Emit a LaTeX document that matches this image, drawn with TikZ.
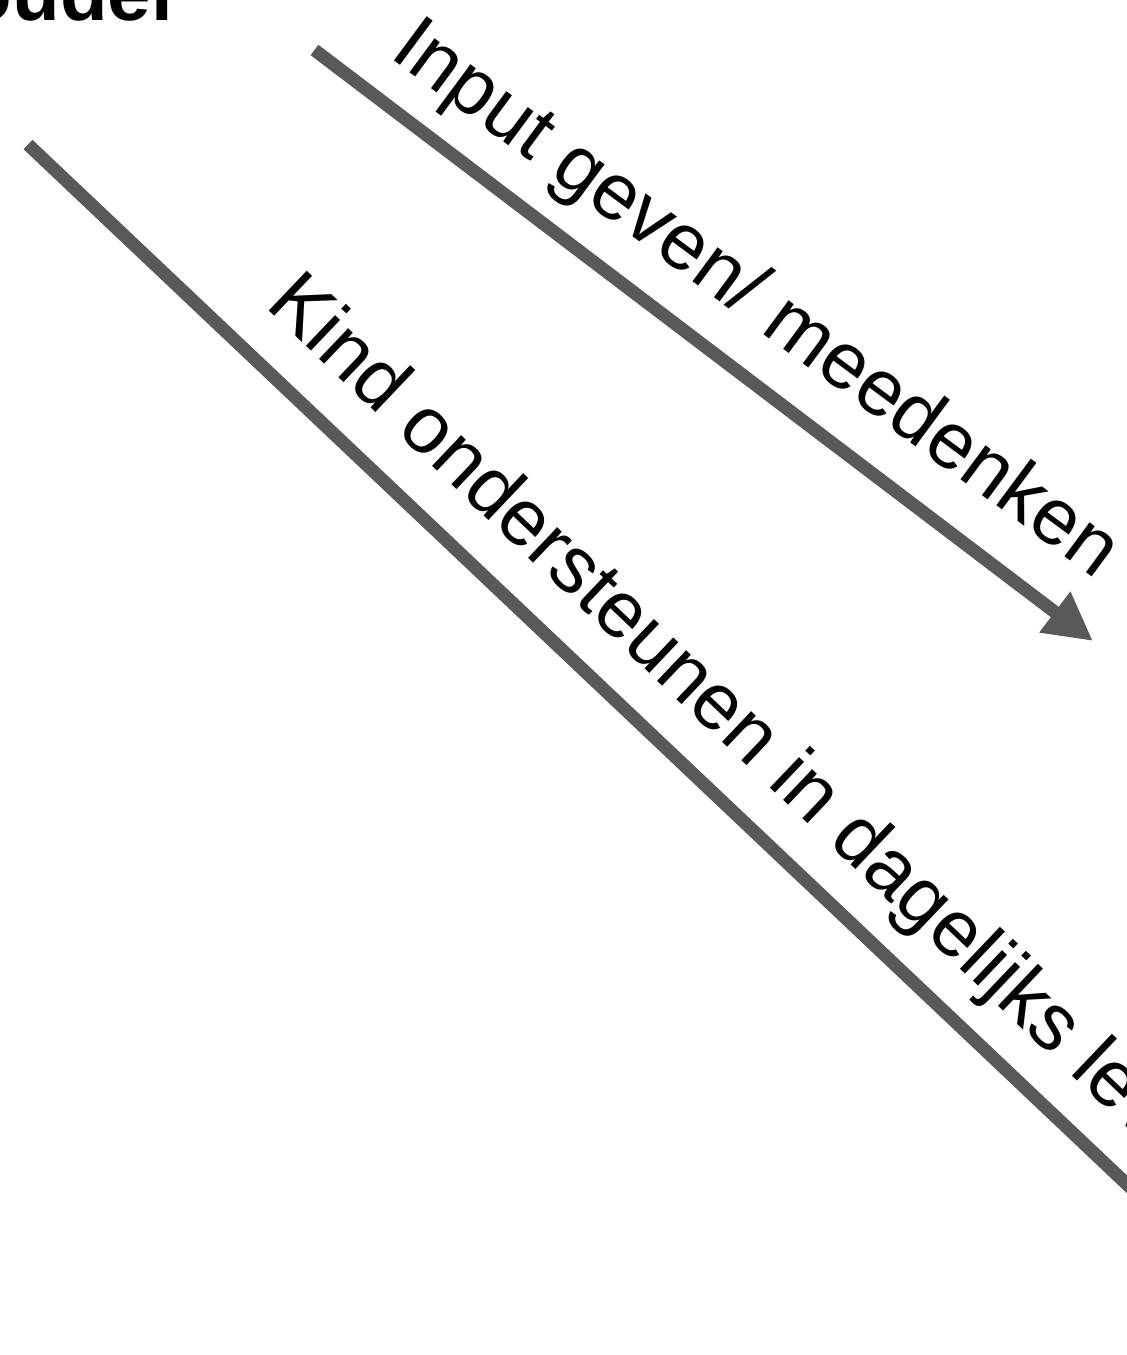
\documentclass[tikz,border=0pt]{standalone}
\usepackage{fontspec}
\setmainfont{Liberation Sans}
\usetikzlibrary{arrows.meta}
\definecolor{linegray}{RGB}{89,89,89}
\tikzset{
  flowline/.style={draw=linegray, line width=13pt},
  flowlabel/.style={anchor=base west, inner sep=0pt, outer sep=0pt, font=\fontsize{80pt}{96pt}\selectfont},
  titlelabel/.style={anchor=base west, inner sep=0pt, outer sep=0pt, font=\fontsize{78pt}{94pt}\selectfont\bfseries}
}
\begin{document}
\begin{tikzpicture}[x=1pt,y=-1pt]
\useasboundingbox (0,0) rectangle (1127,1355);
\clip (0,0) rectangle (1127,1355);
\fill[white] (0,0) rectangle (1127,1355);
% title (cut off at the top-left)
\node[titlelabel] (ouder) at (-35,20) {ouder};
% connectors
\coordinate (a1) at (314.5,50);
\coordinate (a2) at (1093,641);
\coordinate (b1) at (28,144.5);
\coordinate (b2) at (1170,1225);
\draw[flowline, -{Triangle[length=48pt,width=48pt]}] (a1) -- (a2);
\draw[flowline] (b1) -- (b2);
% labels
\node[flowlabel, rotate=-36.5] (lab1) at (388,56) {Input geven/ meedenken};
\node[flowlabel, rotate=-43.6] (lab2) at (264,306) {Kind ondersteunen in dagelijks leven};
\end{tikzpicture}
\end{document}
